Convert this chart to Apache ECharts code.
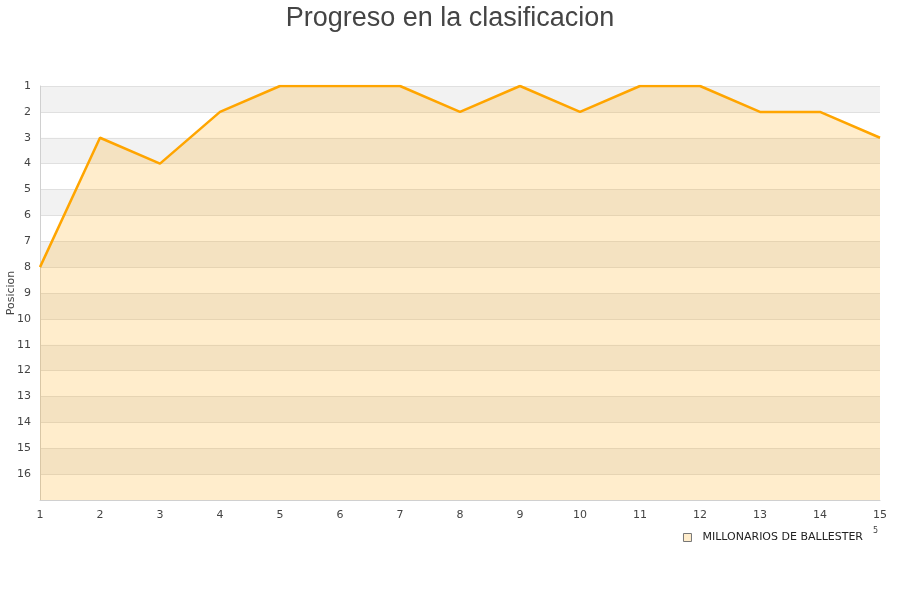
<!DOCTYPE html>
<html>
<head>
<meta charset="utf-8">
<script src="https://cdn.jsdelivr.net/npm/echarts@6/dist/echarts.min.js"></script>
<style>html,body{margin:0;padding:0;background:#fff}#c{width:900px;height:600px}</style>
</head>
<body>
<div id="c"></div>
<script>
var jornadas = [1,2,3,4,5,6,7,8,9,10,11,12,13,14,15];
var posiciones = [8,3,4,2,1,1,1,2,1,2,1,1,2,2,3];
var seriesName = 'MILLONARIOS DE BALLESTER';
var titleText = 'Progreso en la clasificacion';
var yName = 'Posicion';

var chart = echarts.init(document.getElementById('c'));
var data = jornadas.map(function(j,i){ return [j, posiciones[i]]; });
chart.setOption({
  animation: false,
  title: {
    text: titleText, left: 'center', top: 0,
    textStyle: { fontFamily: 'Liberation Sans, Arial, sans-serif', fontSize: 27, fontWeight: 'normal', color: '#444' }
  },
  grid: { left: 40, right: 20, top: 86, bottom: 100, containLabel: false, outerBoundsMode: 'none' },
  legend: {
    right: 32, top: 527, icon: 'rect', itemWidth: 8, itemHeight: 8, itemGap: 6,
    textStyle: { fontFamily: 'DejaVu Sans, sans-serif', fontSize: 11, color: '#222', padding: [0, 0, 0, 6] },
    itemStyle: { color: '#FFEDCC', borderColor: '#777', borderWidth: 1 },
    data: [seriesName]
  },
  xAxis: {
    type: 'value', min: 1, max: 15, interval: 1,
    axisLine: { lineStyle: { color: '#d0d0d0' } },
    axisTick: { show: false },
    splitLine: { show: false },
    axisLabel: { fontFamily: 'DejaVu Sans, sans-serif', fontSize: 11, color: '#444', margin: 10 }
  },
  yAxis: {
    type: 'value', inverse: true, min: 1, max: 17, interval: 1,
    name: yName, nameLocation: 'middle', nameGap: 23, nameRotate: 90, nameMoveOverlap: false,
    nameTextStyle: { fontFamily: 'DejaVu Sans, sans-serif', fontSize: 11, color: '#444' },
    axisLine: { show: true, lineStyle: { color: '#d0d0d0' } },
    axisTick: { show: false },
    axisLabel: {
      fontFamily: 'DejaVu Sans, sans-serif', fontSize: 11, color: '#444', margin: 9,
      formatter: function(v){ return v >= 17 ? '' : String(v); }
    },
    splitLine: { show: true, lineStyle: { color: '#e0e0e0' } },
    splitArea: { show: true, areaStyle: { color: ['#f2f2f2', '#ffffff'] } }
  },
  series: [{
    name: seriesName, type: 'line', data: data, symbol: 'none',
    lineStyle: { color: '#FFA500', width: 2.5 },
    itemStyle: { color: '#FFEDCC' },
    areaStyle: { origin: 'end', color: '#FFA500', opacity: 0.2 }
  }],
  graphic: [{
    type: 'text', left: 873, top: 527,
    style: { text: '5', fontSize: 8, fill: '#444', fontFamily: 'DejaVu Sans, sans-serif' }
  }]
});
</script>
</body>
</html>
